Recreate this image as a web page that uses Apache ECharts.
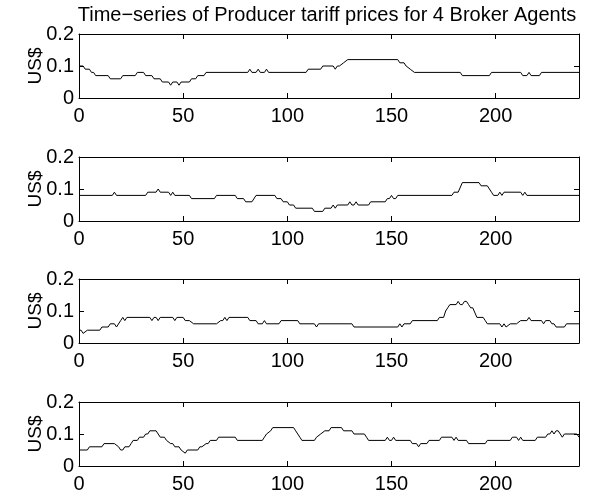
<!DOCTYPE html>
<html>
<head>
<meta charset="utf-8">
<script src="https://cdn.jsdelivr.net/npm/echarts@6/dist/echarts.min.js"></script>
<style>
  html, body { margin: 0; padding: 0; background: #fff; }
  #chart { width: 592px; height: 498px; }
</style>
</head>
<body>
<div id="chart"></div>
<script>
// tariff prices (US$) per time step, breakpoints
const agent1 = [[0,0.10],[2,0.10],[3,0.09],[5,0.09],[6,0.08],[7,0.08],[8,0.07],[14,0.07],[15,0.06],[20,0.06],[21,0.07],[27,0.07],[28,0.08],[31,0.08],[32,0.07],[35,0.07],[36,0.06],[39,0.06],[40,0.05],[43,0.05],[44,0.04],[45,0.05],[47,0.05],[48,0.04],[49,0.05],[53,0.05],[54,0.06],[56,0.06],[57,0.07],[60,0.07],[61,0.08],[81,0.08],[82,0.09],[83,0.08],[85,0.08],[86,0.09],[87,0.08],[89,0.08],[90,0.09],[91,0.08],[109,0.08],[110,0.09],[116,0.09],[117,0.10],[122,0.10],[123,0.09],[124,0.10],[125,0.10],[127,0.11],[129,0.12],[153,0.12],[154,0.11],[156,0.11],[157,0.10],[159,0.09],[161,0.08],[183,0.08],[184,0.07],[197,0.07],[198,0.08],[212,0.08],[213,0.07],[215,0.07],[216,0.08],[217,0.07],[221,0.07],[222,0.08],[240,0.08]];
const agent2 = [[0,0.08],[16,0.08],[17,0.09],[18,0.08],[32,0.08],[33,0.09],[37,0.09],[38,0.10],[39,0.09],[43,0.09],[44,0.08],[45,0.09],[46,0.08],[53,0.08],[54,0.07],[65,0.07],[66,0.08],[75,0.08],[76,0.07],[79,0.07],[80,0.06],[83,0.06],[85,0.08],[94,0.08],[95,0.07],[97,0.07],[98,0.06],[100,0.06],[101,0.05],[103,0.05],[104,0.04],[112,0.04],[113,0.03],[117,0.03],[118,0.04],[121,0.04],[122,0.05],[123,0.04],[124,0.05],[129,0.05],[130,0.06],[131,0.05],[132,0.05],[133,0.06],[134,0.05],[139,0.05],[140,0.06],[147,0.06],[148,0.07],[149,0.07],[150,0.08],[151,0.07],[152,0.07],[153,0.08],[179,0.08],[180,0.09],[182,0.09],[184,0.12],[192,0.12],[193,0.11],[196,0.11],[197,0.10],[198,0.09],[199,0.08],[201,0.08],[202,0.09],[203,0.08],[204,0.09],[212,0.09],[213,0.08],[214,0.09],[215,0.08],[240,0.08]];
const agent3 = [[0,0.04],[1,0.04],[2,0.03],[4,0.04],[10,0.04],[11,0.05],[14,0.05],[15,0.06],[17,0.06],[18,0.05],[20,0.07],[21,0.08],[22,0.07],[23,0.08],[34,0.08],[35,0.07],[36,0.08],[37,0.08],[38,0.07],[39,0.08],[45,0.08],[46,0.07],[47,0.08],[50,0.08],[51,0.07],[53,0.07],[55,0.06],[66,0.06],[68,0.07],[69,0.07],[70,0.08],[71,0.07],[72,0.08],[81,0.08],[82,0.07],[85,0.07],[86,0.06],[88,0.06],[89,0.07],[90,0.06],[96,0.06],[97,0.07],[105,0.07],[106,0.06],[113,0.06],[114,0.05],[115,0.06],[131,0.06],[132,0.05],[153,0.05],[154,0.06],[155,0.05],[156,0.06],[159,0.06],[160,0.07],[172,0.07],[173,0.08],[175,0.08],[176,0.10],[177,0.11],[178,0.12],[181,0.12],[182,0.13],[183,0.12],[184,0.12],[185,0.13],[186,0.13],[187,0.12],[188,0.11],[189,0.11],[191,0.08],[194,0.08],[195,0.07],[196,0.06],[202,0.06],[203,0.05],[204,0.06],[205,0.05],[207,0.06],[210,0.06],[212,0.07],[215,0.07],[216,0.08],[217,0.07],[222,0.07],[223,0.06],[224,0.07],[226,0.07],[227,0.06],[228,0.06],[229,0.05],[233,0.05],[234,0.06],[240,0.06]];
const agent4 = [[0,0.05],[4,0.05],[5,0.06],[11,0.06],[12,0.07],[17,0.07],[19,0.06],[20,0.05],[21,0.05],[22,0.06],[24,0.06],[25,0.07],[26,0.08],[28,0.08],[29,0.09],[31,0.09],[32,0.10],[33,0.10],[34,0.11],[37,0.11],[38,0.10],[39,0.09],[41,0.09],[42,0.08],[44,0.07],[45,0.07],[46,0.06],[48,0.06],[49,0.05],[51,0.04],[52,0.05],[57,0.05],[58,0.06],[59,0.06],[61,0.07],[62,0.07],[63,0.08],[66,0.08],[67,0.09],[75,0.09],[76,0.08],[88,0.08],[89,0.09],[90,0.10],[92,0.11],[93,0.12],[103,0.12],[104,0.11],[105,0.10],[106,0.09],[107,0.08],[113,0.08],[114,0.09],[116,0.10],[118,0.11],[120,0.11],[121,0.12],[126,0.12],[127,0.11],[131,0.11],[132,0.10],[137,0.10],[138,0.09],[139,0.08],[147,0.08],[148,0.09],[149,0.08],[150,0.08],[151,0.09],[152,0.08],[159,0.08],[160,0.07],[162,0.07],[163,0.06],[164,0.07],[167,0.07],[168,0.08],[173,0.08],[174,0.09],[179,0.09],[180,0.08],[181,0.09],[182,0.08],[186,0.08],[187,0.07],[195,0.07],[196,0.08],[207,0.08],[208,0.09],[210,0.09],[211,0.08],[212,0.09],[213,0.08],[219,0.08],[220,0.09],[224,0.09],[225,0.10],[226,0.10],[227,0.11],[228,0.10],[229,0.11],[230,0.11],[231,0.10],[232,0.09],[233,0.10],[239,0.10],[240,0.09]];

const agents = [agent1, agent2, agent3, agent4];
const titleText = 'Time\u2212series of Producer tariff prices for 4 Broker Agents';
const yName = 'US$';

const FONT = 'Liberation Sans, Arial, Helvetica, sans-serif';
const gridTops = [34, 157, 279, 402];
const plotHeight = 64;

const chart = echarts.init(document.getElementById('chart'), null, { renderer: 'canvas' });

const grids = [];
const xAxes = [];
const yAxes = [];
const series = [];

// onZero off, otherwise the top/right box axes get pulled onto the zero line
const line = { show: true, onZero: false, lineStyle: { color: '#000', width: 1 } };
const tickIn = { show: true, inside: true, length: 5, lineStyle: { color: '#000', width: 1 } };

agents.forEach((data, i) => {
  grids.push({ left: 79, right: 13, top: gridTops[i], height: plotHeight });

  // bottom axis with labels, top axis only for the box + ticks
  xAxes.push({
    type: 'value', gridIndex: i, position: 'bottom',
    min: 0, max: 240, interval: 50,
    axisLine: line, axisTick: tickIn, splitLine: { show: false },
    axisLabel: { color: '#000', fontSize: 20, fontFamily: FONT, margin: 8, showMaxLabel: false }
  });
  xAxes.push({
    type: 'value', gridIndex: i, position: 'top',
    min: 0, max: 240, interval: 50,
    axisLine: line, axisTick: tickIn, splitLine: { show: false },
    axisLabel: { show: false }
  });

  yAxes.push({
    type: 'value', gridIndex: i, position: 'left',
    min: 0, max: 0.2, interval: 0.1,
    name: yName, nameLocation: 'middle', nameRotate: 90, nameGap: 34,
    nameMoveOverlap: false,
    nameTextStyle: { color: '#000', fontSize: 19, fontFamily: FONT },
    axisLine: line, axisTick: tickIn, splitLine: { show: false },
    axisLabel: { color: '#000', fontSize: 20, fontFamily: FONT, margin: 5 }
  });
  yAxes.push({
    type: 'value', gridIndex: i, position: 'right',
    min: 0, max: 0.2, interval: 0.1,
    axisLine: line, axisTick: tickIn, splitLine: { show: false },
    axisLabel: { show: false }
  });

  series.push({
    type: 'line',
    xAxisIndex: i * 2,
    yAxisIndex: i * 2,
    data: data,
    showSymbol: false,
    symbol: 'none',
    silent: true,
    lineStyle: { color: '#000', width: 1 }
  });
});

const option = {
  animation: false,
  backgroundColor: '#fff',
  title: {
    text: titleText,
    left: 322,
    textAlign: 'center',
    top: 0,
    textStyle: { color: '#000', fontSize: 20, fontWeight: 'normal', fontFamily: FONT }
  },
  grid: grids,
  xAxis: xAxes,
  yAxis: yAxes,
  series: series
};

chart.setOption(option);
</script>
</body>
</html>
